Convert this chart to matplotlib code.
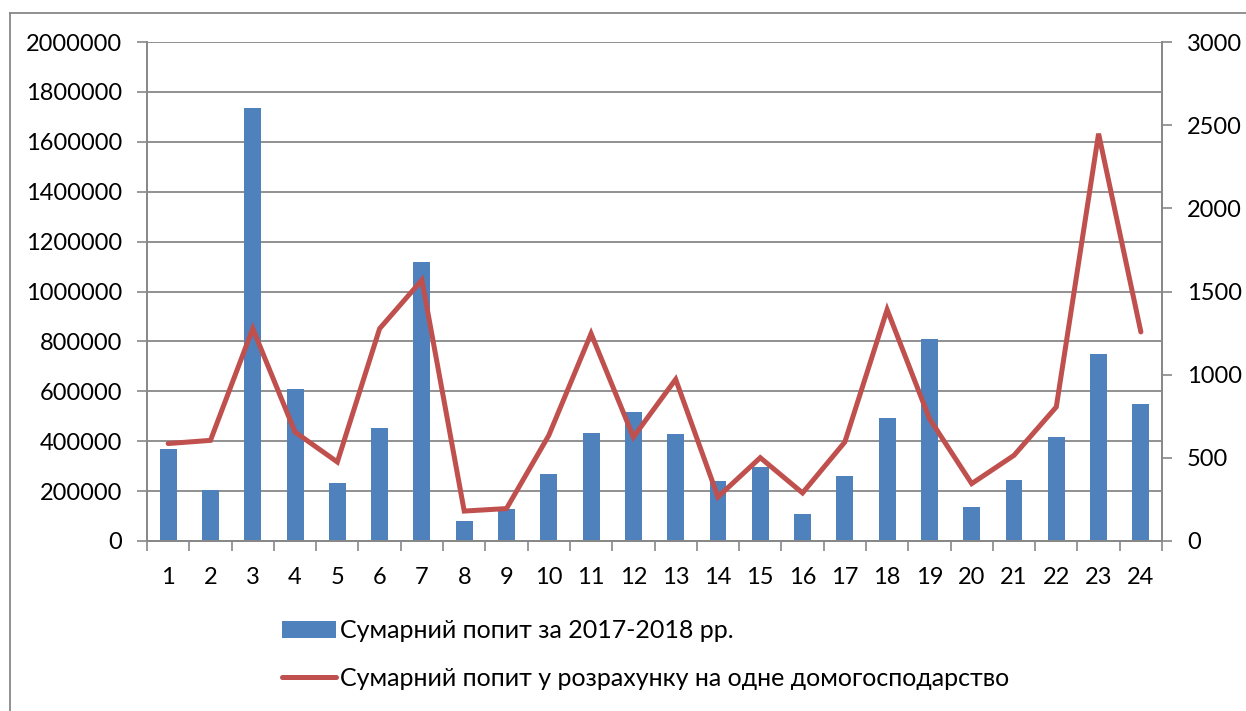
import matplotlib.pyplot as plt
from matplotlib.lines import Line2D
import numpy as np

# categories 1..24
categories = list(range(1, 25))

# Сумарний попит за 2017-2018 рр. (left axis)
total_demand = [370000, 203000, 1734000, 611000, 231000, 452000, 1118000, 80000,
                128000, 269000, 434000, 519000, 429000, 239000, 295000, 108000,
                262000, 492000, 811000, 135000, 243000, 416000, 748000, 548000]

# Сумарний попит у розрахунку на одне домогосподарство (right axis)
per_household = [586, 605, 1277, 655, 475, 1277, 1569, 180,
                 195, 635, 1247, 625, 972, 265, 501, 289,
                 595, 1391, 736, 345, 515, 806, 2449, 1257]

left_ticks = [0, 200000, 400000, 600000, 800000, 1000000, 1200000, 1400000, 1600000, 1800000, 2000000]
right_ticks = [0, 500, 1000, 1500, 2000, 2500, 3000]

plt.rcParams['font.family'] = ['Lato', 'DejaVu Sans']

bar_color = '#4F81BD'
line_color = '#C0504D'
grid_color = '#888888'

fig = plt.figure(figsize=(12.46, 7.11), dpi=100)
ax = fig.add_axes([0.118, 0.2391, 0.8146, 0.7018])
ax2 = ax.twinx()

x = np.array(categories)
bars = ax.bar(x, total_demand, width=0.4, color=bar_color, zorder=2,
              label='Сумарний попит за 2017-2018 рр.')
line, = ax2.plot(x, per_household, color=line_color, linewidth=3.6,
                 solid_joinstyle='miter', solid_capstyle='round',
                 label='Сумарний попит у розрахунку на одне домогосподарство')

ax.set_xlim(0.5, 24.5)
ax.set_ylim(0, 2000000)
ax2.set_ylim(0, 3000)
ax.set_yticks(left_ticks)
ax.set_yticklabels([str(v) for v in left_ticks])
ax2.set_yticks(right_ticks)
ax2.set_yticklabels([str(v) for v in right_ticks])

ax.set_xticks(categories)
ax.set_xticklabels([str(c) for c in categories])
ax.set_xticks(np.arange(0.5, 25, 1), minor=True)
ax.tick_params(axis='x', which='major', length=0, pad=19, labelsize=17)
ax.tick_params(axis='x', which='minor', length=7, width=1.2, color=grid_color, direction='out')
ax.tick_params(axis='y', length=7, width=1.2, color=grid_color, pad=11, labelsize=17)
ax2.tick_params(axis='y', length=7, width=1.2, color=grid_color, pad=11, labelsize=17)

ax.yaxis.grid(True, color=grid_color, linewidth=1.3, zorder=0)
ax.set_axisbelow(True)

for a in (ax, ax2):
    a.spines['top'].set_visible(False)
    for s in ('left', 'right', 'bottom'):
        a.spines[s].set_color(grid_color)
        a.spines[s].set_linewidth(1.3)

leg = fig.legend(handles=[bars, line], loc='upper left',
                 bbox_to_anchor=(282 / 1246, 1 - 619 / 711), frameon=False, fontsize=18,
                 handlelength=2.15, handletextpad=0.15, labelspacing=1.0,
                 borderaxespad=0, borderpad=0)

# outer chart frame
fig.add_artist(Line2D([10 / 1246, 10 / 1246], [0, 1 - 13 / 711],
                      transform=fig.transFigure, color=grid_color, linewidth=1.3))
fig.add_artist(Line2D([10 / 1246, 1], [1 - 13 / 711, 1 - 13 / 711],
                      transform=fig.transFigure, color=grid_color, linewidth=1.3))

plt.savefig('out.png', dpi=100)
